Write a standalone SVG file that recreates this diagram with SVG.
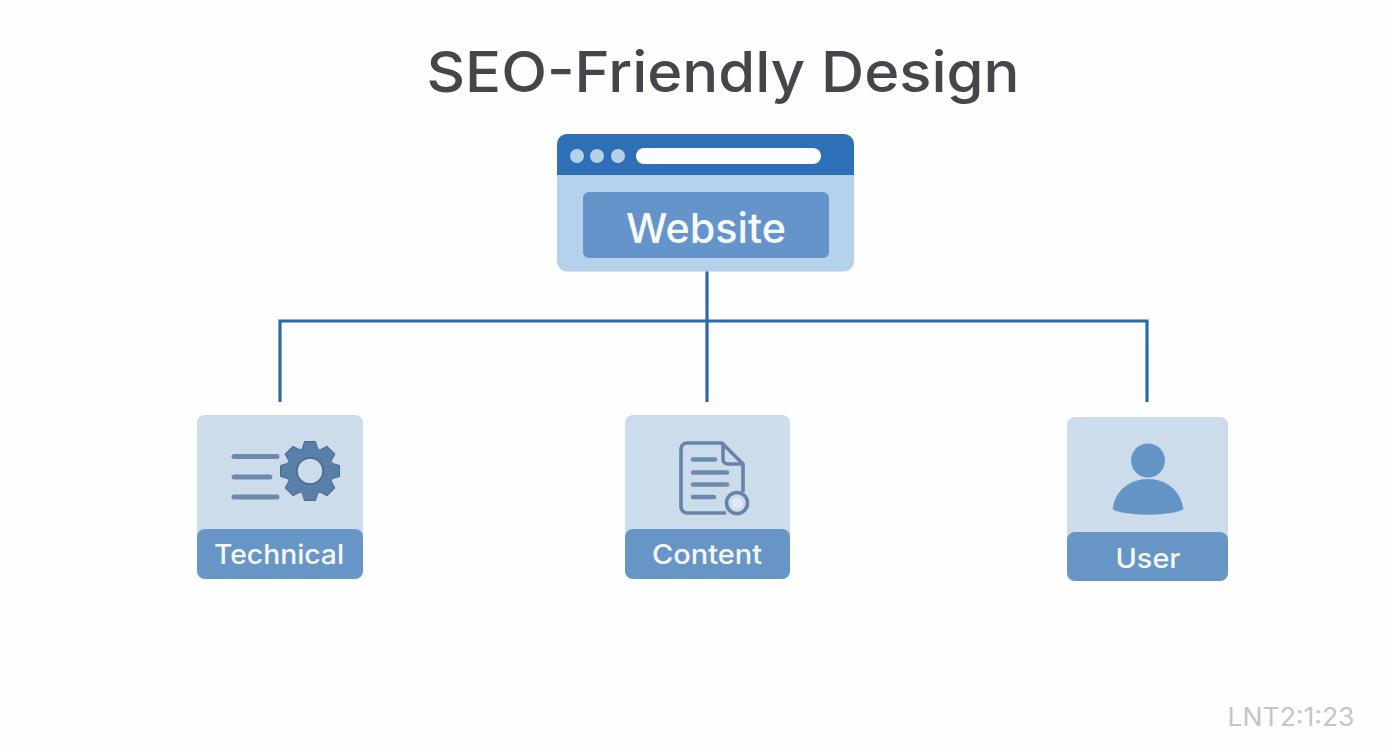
<svg xmlns="http://www.w3.org/2000/svg" width="1392" height="752" viewBox="0 0 1392 752">
<style>
text{font-family:Inter,"Noto Sans","Liberation Sans",sans-serif;text-anchor:middle}
.title{font-size:56px;font-weight:500;fill:#43464b}
.label{font-size:27px;font-weight:500;fill:#f4f8fc}
.card{fill:#ccdcea}
.tab{fill:#6796c6}
.conn{fill:none;stroke:#2a69ad;stroke-width:3.2}
.ic{fill:none;stroke:#6c89ae;stroke-width:5;stroke-linecap:round}
.doc{fill:none;stroke:#6684aa;stroke-width:3.6;stroke-linejoin:round}
.gear{fill:#5a7fa9;stroke:#47688f;stroke-width:1}
</style>
<defs><polygon id="tooth" points="-5.500,-29.500 5.500,-29.500 8,-21 -8,-21"/></defs>
<rect width="1392" height="752" fill="#fdfdfd"/>
<text class="title" x="723" y="92" textLength="593" lengthAdjust="spacingAndGlyphs">SEO-Friendly Design</text>
<g id="connectors">
<path class="conn" d="M707 271V402M280 402V321H1147V402"/>
</g>
<g id="website">
<rect x="557" y="134" width="297" height="137.500" rx="10" fill="#b5d1ec"/>
<path d="M557 175V144a10 10 0 0 1 10-10H844a10 10 0 0 1 10 10V175Z" fill="#2e70b7"/>
<circle cx="577" cy="156" r="7" fill="#b6d0e6"/>
<circle cx="597" cy="156" r="7" fill="#b6d0e6"/>
<circle cx="618" cy="156" r="7" fill="#b6d0e6"/>
<rect x="636" y="148" width="185" height="16" rx="8" fill="#fdfeff"/>
<rect x="583" y="192" width="246" height="66" rx="6" fill="#6594ca"/>
<text x="706" y="243" font-size="41" font-weight="500" fill="#f6f9fd" textLength="160" lengthAdjust="spacingAndGlyphs">Website</text>
</g>
<g id="technical">
<rect class="card" x="197" y="415" width="166" height="164" rx="8"/>
<path class="tab" d="M197 537a8 8 0 0 1 8-8H355a8 8 0 0 1 8 8V571a8 8 0 0 1-8 8H205a8 8 0 0 1-8-8Z"/>
<path class="ic" d="M234 456.500H277M234 477H270M234 497H277"/>
<g class="gear" transform="translate(310 471)">
<use href="#tooth"/><use href="#tooth" transform="rotate(45)"/><use href="#tooth" transform="rotate(90)"/><use href="#tooth" transform="rotate(135)"/><use href="#tooth" transform="rotate(180)"/><use href="#tooth" transform="rotate(225)"/><use href="#tooth" transform="rotate(270)"/><use href="#tooth" transform="rotate(315)"/>
<circle r="24" stroke="none"/>
<circle r="13" fill="#ccdcea" stroke="#47688f" stroke-width="1.500"/>
</g>
<text class="label" x="279" y="564" textLength="130" lengthAdjust="spacingAndGlyphs">Technical</text>
</g>
<g id="content">
<rect class="card" x="625" y="415" width="165" height="164" rx="8"/>
<path class="tab" d="M625 537a8 8 0 0 1 8-8H782a8 8 0 0 1 8 8V571a8 8 0 0 1-8 8H633a8 8 0 0 1-8-8Z"/>
<path class="doc" d="M726 513H687a6 6 0 0 1-6-6V449a6 6 0 0 1 6-6H722L743 464V492"/>
<path class="doc" d="M723 444V459a5 5 0 0 0 5 5H742"/>
<path class="ic" d="M693 459.500H715M693 472.500H727M693 484.500H727M693 497H714" style="stroke-width:4.500"/>
<circle cx="737" cy="503" r="10.500" fill="#ccdcea" stroke="#6684aa" stroke-width="3.600"/>
<circle cx="737" cy="503" r="5.500" fill="#dfe8f1"/>
<text class="label" x="707" y="564" textLength="110" lengthAdjust="spacingAndGlyphs">Content</text>
</g>
<g id="user">
<rect class="card" x="1067" y="417" width="161" height="164" rx="8"/>
<path class="tab" d="M1067 540a8 8 0 0 1 8-8H1220a8 8 0 0 1 8 8V573a8 8 0 0 1-8 8H1075a8 8 0 0 1-8-8Z"/>
<circle cx="1148" cy="460.500" r="17" fill="#6594c6"/>
<path d="M1113 507C1116 490 1130 479 1148 479C1166 479 1180 490 1183 507C1184 509 1183 510 1180 511C1160 516 1136 516 1116 511C1113 510 1112 509 1113 507Z" fill="#6594c6"/>
<text class="label" x="1148" y="568" textLength="65" lengthAdjust="spacingAndGlyphs">User</text>
</g>
<text x="1291" y="726" font-size="25" fill="#c2c6cb" textLength="127" lengthAdjust="spacingAndGlyphs">LNT2:1:23</text>
</svg>
